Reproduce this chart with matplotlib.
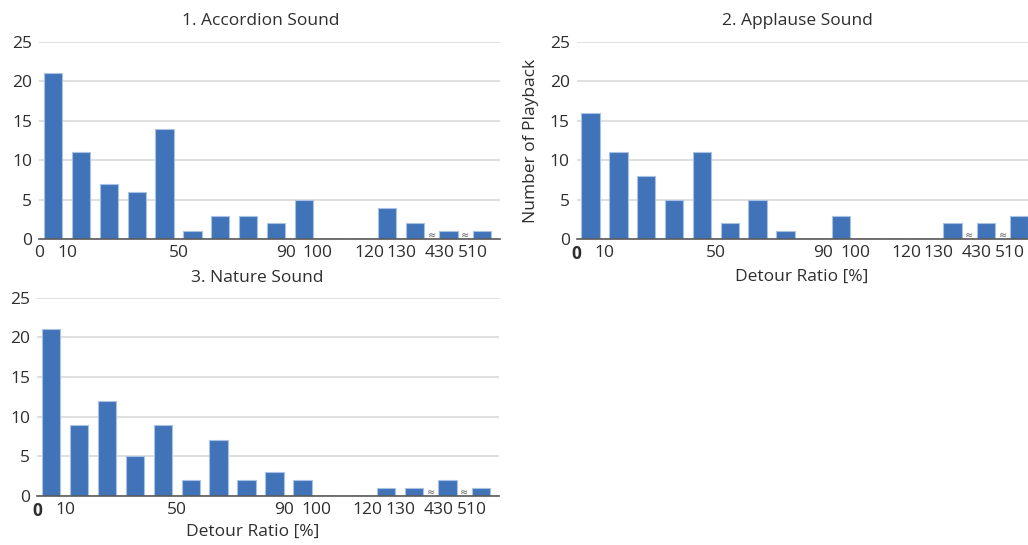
import matplotlib
matplotlib.use("Agg")
import matplotlib.pyplot as plt

plt.rcParams["font.family"] = ["Open Sans", "DejaVu Sans"]

# Detour-ratio bins: 10 %-wide bins from 0 to 140, then two bins past axis breaks
bin_edge_labels = ["0", "10", "50", "90", "100", "120", "130", "430", "510"]
bin_edge_index = [0, 1, 5, 9, 10, 12, 13, 14, 15]
break_before = [14, 15]

accordion = [21, 11, 7, 6, 14, 1, 3, 3, 2, 5, 0, 0, 4, 2, 1, 1]
applause = [16, 11, 8, 5, 11, 2, 5, 1, 0, 3, 0, 0, 0, 2, 2, 3]
nature = [21, 9, 12, 5, 9, 2, 7, 2, 3, 2, 0, 0, 1, 1, 2, 1]

titles = ["1. Accordion Sound", "2. Applause Sound", "3. Nature Sound"]
y_ticks = [0, 5, 10, 15, 20, 25]

BAR = "#4173b9"
EDGE = "#a9c1e3"
TEXT = "#2e2e2e"
GRID = "#d9d9d9"
AXIS = "#5a5a5a"
GAP = 0.2  # extra space inserted at each axis break

# small horizontal nudges for tick labels that would otherwise crowd a neighbour
label_nudge = {"90": -0.15, "120": -0.15, "430": 0.17, "510": 0.17}


def slot_left(i):
    return i + GAP * sum(1 for b in break_before if i >= b)


W, H = 1028, 545
fig = plt.figure(figsize=(W / 100, H / 100), dpi=100)


def px_axes(left, right, top, bottom):
    return fig.add_axes([left / W, 1 - bottom / H, (right - left) / W, (bottom - top) / H])


def draw(ax, values, bold_zero):
    n = len(values)
    centers = [slot_left(i) + 0.5 for i in range(n)]
    ax.bar(centers, values, width=0.66, color=BAR, edgecolor=EDGE, linewidth=0.8, zorder=3)
    ax.set_ylim(0, 25)
    ax.set_xlim(0, 16.55)
    ax.set_yticks(y_ticks)
    ax.set_yticklabels([str(t) for t in y_ticks])
    ax.yaxis.grid(True, color=GRID, linewidth=1.2, zorder=0)
    ax.set_axisbelow(True)
    for s in ["top", "right", "left"]:
        ax.spines[s].set_visible(False)
    ax.spines["bottom"].set_color(AXIS)
    ax.spines["bottom"].set_linewidth(1.2)
    ax.spines["bottom"].set_zorder(4)
    ax.tick_params(axis="both", length=0, labelsize=12.5, colors=TEXT)
    ax.tick_params(axis="y", pad=5)
    ax.tick_params(axis="x", pad=4)

    xt = [slot_left(idx) + label_nudge.get(lbl, 0.0)
          for lbl, idx in zip(bin_edge_labels, bin_edge_index)]
    ax.set_xticks(xt)
    ax.set_xticklabels(bin_edge_labels)
    if bold_zero:
        ax.get_xticklabels()[0].set_fontweight("bold")

    # break markers on the axis line
    for b in break_before:
        xb = slot_left(b) - GAP / 2
        ax.text(xb, -0.1, "≈", fontsize=7, color=AXIS, ha="center", va="bottom",
                family="DejaVu Sans", zorder=5)


ax1 = px_axes(39.3, 500, 41.7, 239.3)
draw(ax1, accordion, False)
ax2 = px_axes(576.7, 576.7 + 460.7, 41.7, 239.3)
draw(ax2, applause, True)
ax3 = px_axes(37.3, 499, 297.7, 496)
draw(ax3, nature, True)

fig.text(261 / W, 1 - 20.7 / H, titles[0], ha="center", va="center", fontsize=12.5, color=TEXT)
fig.text(797 / W, 1 - 20.7 / H, titles[1], ha="center", va="center", fontsize=12.5, color=TEXT)
fig.text(257.5 / W, 1 - 278 / H, titles[2], ha="center", va="center", fontsize=12.5, color=TEXT)

fig.text(802 / W, 1 - 277 / H, "Detour Ratio [%]", ha="center", va="center", fontsize=12.5, color=TEXT)
fig.text(253 / W, 1 - 532 / H, "Detour Ratio [%]", ha="center", va="center", fontsize=12.5, color=TEXT)
fig.text(531 / W, 1 - 141 / H, "Number of Playback", ha="center", va="center", rotation=90,
         fontsize=12.5, color=TEXT)

fig.savefig("out.png", dpi=100)
